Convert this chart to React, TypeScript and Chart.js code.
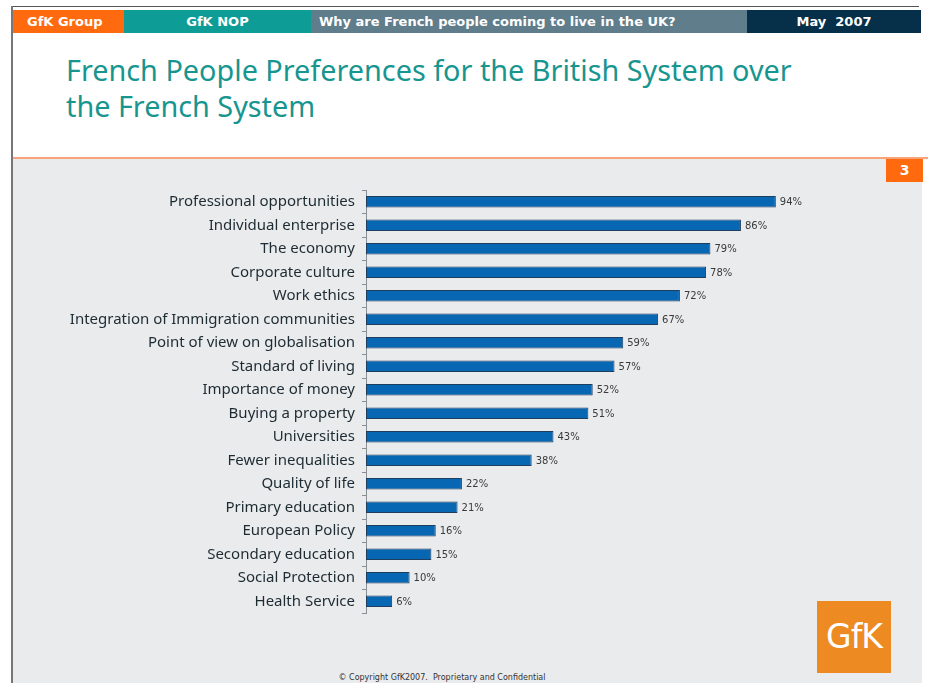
import React, { useEffect, useRef } from "react";
import { Chart, registerables } from "chart.js";

Chart.register(...registerables);

const categories: string[] = [
  "Professional opportunities",
  "Individual enterprise",
  "The economy",
  "Corporate culture",
  "Work ethics",
  "Integration of Immigration communities",
  "Point of view on globalisation",
  "Standard of living",
  "Importance of money",
  "Buying a property",
  "Universities",
  "Fewer inequalities",
  "Quality of life",
  "Primary education",
  "European Policy",
  "Secondary education",
  "Social Protection",
  "Health Service",
];

const values: number[] = [94, 86, 79, 78, 72, 67, 59, 57, 52, 51, 43, 38, 22, 21, 16, 15, 10, 6];

const headerCells: string[] = ["GfK Group", "GfK NOP", "Why are French people coming to live in the UK?", "May  2007"];
const titleLines: string[] = ["French People Preferences for the British System over", "the French System"];
const pageNumber = "3";
const copyright = "\u00A9 Copyright GfK2007.  Proprietary and Confidential";
const logoText = "GfK";

const valueLabelPlugin = {
  id: "valueLabels",
  afterDatasetsDraw(chart: any) {
    const ctx = chart.ctx;
    const meta = chart.getDatasetMeta(0);
    ctx.save();
    ctx.font = "10px 'DejaVu Sans', Verdana, sans-serif";
    ctx.fillStyle = "#3a3a3a";
    ctx.textAlign = "left";
    ctx.textBaseline = "middle";
    meta.data.forEach((bar: any, i: number) => {
      ctx.fillText(values[i] + "%", bar.x + 4, bar.y + 1);
    });
    ctx.restore();
  },
};

function BarChart() {
  const ref = useRef<HTMLCanvasElement | null>(null);
  useEffect(() => {
    if (!ref.current) return;
    const chart = new Chart(ref.current, {
      type: "bar",
      data: {
        labels: categories,
        datasets: [
          {
            data: values,
            backgroundColor: "#0867b3",
            borderColor: "#1f3e5e",
            borderWidth: 1,
            borderSkipped: false,
            barPercentage: 0.48,
            categoryPercentage: 1,
          },
        ],
      },
      options: {
        indexAxis: "y",
        animation: false,
        responsive: false,
        maintainAspectRatio: false,
        layout: { padding: { top: 10, bottom: 8, right: 84, left: 0 } },
        plugins: { legend: { display: false }, tooltip: { enabled: false } },
        scales: {
          x: { display: false, min: 0, max: 100 },
          y: {
            afterFit: (scale: any) => {
              scale.width = 354;
            },
            grid: {
              offset: true,
              drawOnChartArea: false,
              drawTicks: true,
              tickLength: 4,
              color: "#8a8f94",
            },
            border: { display: true, color: "#8a8f94", width: 1 },
            ticks: {
              padding: 7,
              color: "#1d2b33",
              font: { family: "'Noto Sans', sans-serif", size: 15 },
              autoSkip: false,
            },
          },
        },
      },
      plugins: [valueLabelPlugin],
    });
    return () => chart.destroy();
  }, []);
  return <canvas ref={ref} width={874} height={455} style={{ position: "absolute", left: 12, top: 174, width: 874, height: 455 }} />;
}

export default function App() {
  const headerFont = "bold 13px 'DejaVu Sans', Verdana, sans-serif";
  const cell = (left: number, width: number, bg: string, text: string, align: "left" | "center", pad = 0) => (
    <div
      style={{
        position: "absolute",
        left,
        top: 10,
        width,
        height: 23,
        background: bg,
        color: "#fff",
        font: headerFont,
        lineHeight: "23px",
        textAlign: align,
        paddingLeft: pad,
        boxSizing: "border-box",
        whiteSpace: "pre",
      }}
    >
      {text}
    </div>
  );
  return (
    <div style={{ position: "absolute", left: 0, top: 0, width: 928, height: 683, background: "#fff", overflow: "hidden" }}>
      <div style={{ position: "absolute", left: 11, top: 6, width: 908, height: 1, background: "#555" }} />
      <div style={{ position: "absolute", left: 11, top: 6, width: 2, height: 677, background: "#777" }} />
      {cell(13, 111, "#ff6a0e", headerCells[0], "left", 14)}
      {cell(124, 187, "#0e9c97", headerCells[1], "center")}
      {cell(311, 436, "#5f7d8a", headerCells[2], "left", 8)}
      {cell(747, 174, "#062f49", headerCells[3], "center")}
      <div
        style={{
          position: "absolute",
          left: 66,
          top: 52,
          color: "#17958f",
          font: "28.8px 'Noto Sans', sans-serif",
          lineHeight: "36px",
          whiteSpace: "nowrap",
        }}
      >
        <div>{titleLines[0]}</div>
        <div>{titleLines[1]}</div>
      </div>
      <div style={{ position: "absolute", left: 13, top: 157, width: 915, height: 2, background: "#f9a37a" }} />
      <div style={{ position: "absolute", left: 13, top: 159, width: 909, height: 524, background: "#eaebed" }} />
      <div
        style={{
          position: "absolute",
          left: 886,
          top: 159,
          width: 37,
          height: 23,
          background: "#ff6a0e",
          color: "#fff",
          font: "bold 14px 'DejaVu Sans', Verdana, sans-serif",
          lineHeight: "23px",
          textAlign: "center",
        }}
      >
        {pageNumber}
      </div>
      <BarChart />
      <div
        style={{
          position: "absolute",
          left: 817,
          top: 601,
          width: 74,
          height: 72,
          background: "#ee8a22",
          color: "#fff",
          font: "33px 'DejaVu Sans', Verdana, sans-serif",
          lineHeight: "72px",
          textAlign: "center",
          letterSpacing: -1,
        }}
      >
        {logoText}
      </div>
      <div
        style={{
          position: "absolute",
          left: 300,
          width: 284,
          top: 672,
          color: "#333",
          font: "8px 'DejaVu Sans', Verdana, sans-serif",
          lineHeight: "12px",
          textAlign: "center",
          whiteSpace: "pre",
        }}
      >
        {copyright}
      </div>
    </div>
  );
}
